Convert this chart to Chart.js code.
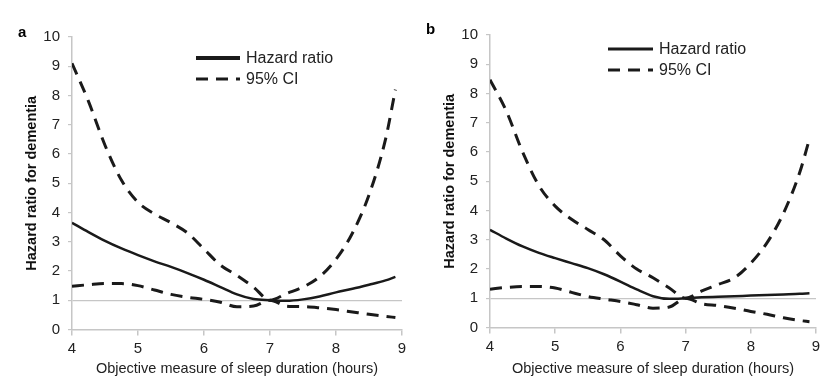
<!DOCTYPE html>
<html>
<head>
<meta charset="utf-8">
<script src="https://cdn.jsdelivr.net/npm/chart.js@4/dist/chart.umd.min.js"></script>
<style>
  body { margin: 0; background: #fff; }
  .wrap { position: absolute; top: 0; width: 420px; height: 392px; }
  #wrapA { left: 0; }
  #wrapB { left: 420px; }
</style>
</head>
<body>
<div class="wrap" id="wrapA"><canvas id="chartA"></canvas></div>
<div class="wrap" id="wrapB"><canvas id="chartB"></canvas></div>
<script>
// horas de sueño (eje x) y ticks
const sleepHours = [4, 4.25, 4.5, 4.75, 5, 5.25, 5.5, 5.75, 6, 6.25, 6.5, 6.75, 7, 7.25, 7.5, 7.75, 8, 8.25, 8.5, 8.75, 8.9];
const xTicks = [4, 5, 6, 7, 8, 9];
const yTicks = [0, 1, 2, 3, 4, 5, 6, 7, 8, 9, 10];

// panel a
const hazardA = [3.65, 3.33, 3.03, 2.77, 2.54, 2.33, 2.14, 1.93, 1.7, 1.45, 1.2, 1.04, 1.0, 0.98, 1.03, 1.13, 1.27, 1.39, 1.53, 1.68, 1.8];
const upperA  = [9.1, 7.8, 6.3, 5.1, 4.35, 3.95, 3.65, 3.3, 2.75, 2.2, 1.85, 1.45, 1.0, 1.23, 1.45, 1.8, 2.4, 3.3, 4.6, 6.5, 8.2];
const lowerA  = [1.48, 1.53, 1.57, 1.57, 1.5, 1.35, 1.2, 1.1, 1.03, 0.93, 0.78, 0.8, 1.0, 0.8, 0.78, 0.74, 0.68, 0.6, 0.52, 0.45, 0.41];

// panel b
const hazardB = [3.34, 3.04, 2.77, 2.55, 2.37, 2.2, 2.03, 1.82, 1.57, 1.3, 1.07, 0.98, 1.0, 1.03, 1.05, 1.07, 1.09, 1.11, 1.13, 1.15, 1.17];
const upperB  = [8.47, 7.4, 6.0, 4.85, 4.15, 3.7, 3.35, 3.0, 2.45, 2.0, 1.7, 1.35, 1.0, 1.25, 1.47, 1.7, 2.2, 2.9, 3.9, 5.3, 6.45];
const lowerB  = [1.31, 1.37, 1.4, 1.4, 1.35, 1.2, 1.06, 0.97, 0.89, 0.78, 0.66, 0.7, 1.0, 0.81, 0.75, 0.66, 0.55, 0.45, 0.33, 0.24, 0.2];

const FONT = "'Liberation Sans', Arial, sans-serif";
const AXIS_GRAY = '#c6c6c6';
const INK = '#1a1a1a';

function toPoints(values) {
    return values.map((v, i) => ({ x: sleepHours[i], y: v }));
}

// leyenda y letra del panel dibujadas a mano
const panelDecor = {
    id: 'panelDecor',
    afterDraw(chart, args, opts) {
        const ctx = chart.ctx;
        ctx.save();
        ctx.fillStyle = '#000';
        ctx.font = 'bold 15px ' + FONT;
        ctx.textBaseline = 'middle';
        ctx.fillText(opts.letter, opts.letterX, opts.letterY);

        const items = [
            { label: chart.data.datasets[0].label, ds: chart.data.datasets[0] },
            { label: chart.data.datasets[1].label, ds: chart.data.datasets[1] }
        ];
        ctx.font = '16px ' + FONT;
        items.forEach((item, i) => {
            const y = opts.y + i * opts.rowGap;
            ctx.beginPath();
            ctx.strokeStyle = INK;
            ctx.lineWidth = i === 0 ? opts.solidWidth : 3;
            ctx.setLineDash(item.ds.borderDash || []);
            ctx.moveTo(opts.x1, y);
            ctx.lineTo(opts.x2, y);
            ctx.stroke();
            ctx.setLineDash([]);
            ctx.fillStyle = '#222';
            ctx.fillText(item.label, opts.x2 + 6, y + 1);
        });
        ctx.restore();
    }
};

function makeChart(canvasId, hazard, upper, lower, box, decor) {
    const oneLine = (ctx) => ctx.tick && ctx.tick.value === 1 ? AXIS_GRAY : 'rgba(0,0,0,0)';
    return new Chart(document.getElementById(canvasId), {
        type: 'line',
        data: {
            datasets: [
                {
                    label: 'Hazard ratio',
                    data: toPoints(hazard),
                    borderColor: INK,
                    borderWidth: 2.5,
                    pointRadius: 0,
                    cubicInterpolationMode: 'monotone'
                },
                {
                    label: '95% CI',
                    data: toPoints(upper),
                    borderColor: INK,
                    borderWidth: 3,
                    borderDash: [12, 8],
                    pointRadius: 0,
                    cubicInterpolationMode: 'monotone'
                },
                {
                    label: '95% CI lower',
                    data: toPoints(lower),
                    borderColor: INK,
                    borderWidth: 3,
                    borderDash: [12, 8],
                    pointRadius: 0,
                    cubicInterpolationMode: 'monotone'
                }
            ]
        },
        options: {
            responsive: true,
            maintainAspectRatio: false,
            animation: false,
            layout: {
                padding: { left: box.padLeft, right: box.padRight, top: box.padTop, bottom: 0 }
            },
            plugins: {
                legend: { display: false },
                tooltip: { enabled: false },
                panelDecor: decor
            },
            scales: {
                x: {
                    type: 'linear',
                    min: 4,
                    max: 9,
                    afterBuildTicks: (scale) => { scale.ticks = xTicks.map(v => ({ value: v })); },
                    afterFit: (scale) => { scale.height = box.xHeight; },
                    border: { color: AXIS_GRAY, width: 1.5 },
                    grid: { drawOnChartArea: false, tickLength: 6, tickColor: AXIS_GRAY, lineWidth: 1.5 },
                    ticks: { color: '#222', font: { family: FONT, size: 15 }, padding: 4 },
                    title: {
                        display: true,
                        text: 'Objective measure of sleep duration (hours)',
                        color: '#222',
                        font: { family: FONT, size: 14.5 },
                        padding: { top: 4, bottom: 14 }
                    }
                },
                y: {
                    min: 0,
                    max: 10,
                    afterBuildTicks: (scale) => { scale.ticks = yTicks.map(v => ({ value: v })); },
                    afterFit: (scale) => { scale.width = box.yWidth; },
                    border: { color: AXIS_GRAY, width: 1.5 },
                    grid: { color: oneLine, tickColor: AXIS_GRAY, tickLength: 4, lineWidth: 1.2 },
                    ticks: { color: '#222', font: { family: FONT, size: 15 }, padding: 8 },
                    title: {
                        display: true,
                        text: 'Hazard ratio for dementia',
                        color: '#111',
                        font: { family: FONT, size: 14.5, weight: 'bold' },
                        padding: { top: 3, bottom: 4 }
                    }
                }
            }
        },
        plugins: [panelDecor]
    });
}

makeChart('chartA', hazardA, upperA, lowerA,
    { padLeft: 20, padRight: 18, padTop: 37, xHeight: 62.5, yWidth: 52 },
    { letter: 'a', letterX: 18, letterY: 33, x1: 196, x2: 240, y: 58, rowGap: 21, solidWidth: 4 });

makeChart('chartB', hazardB, upperB, lowerB,
    { padLeft: 18, padRight: 24, padTop: 35, xHeight: 64.5, yWidth: 52 },
    { letter: 'b', letterX: 6, letterY: 30, x1: 188, x2: 233, y: 49, rowGap: 21, solidWidth: 3 });
</script>
</body>
</html>
